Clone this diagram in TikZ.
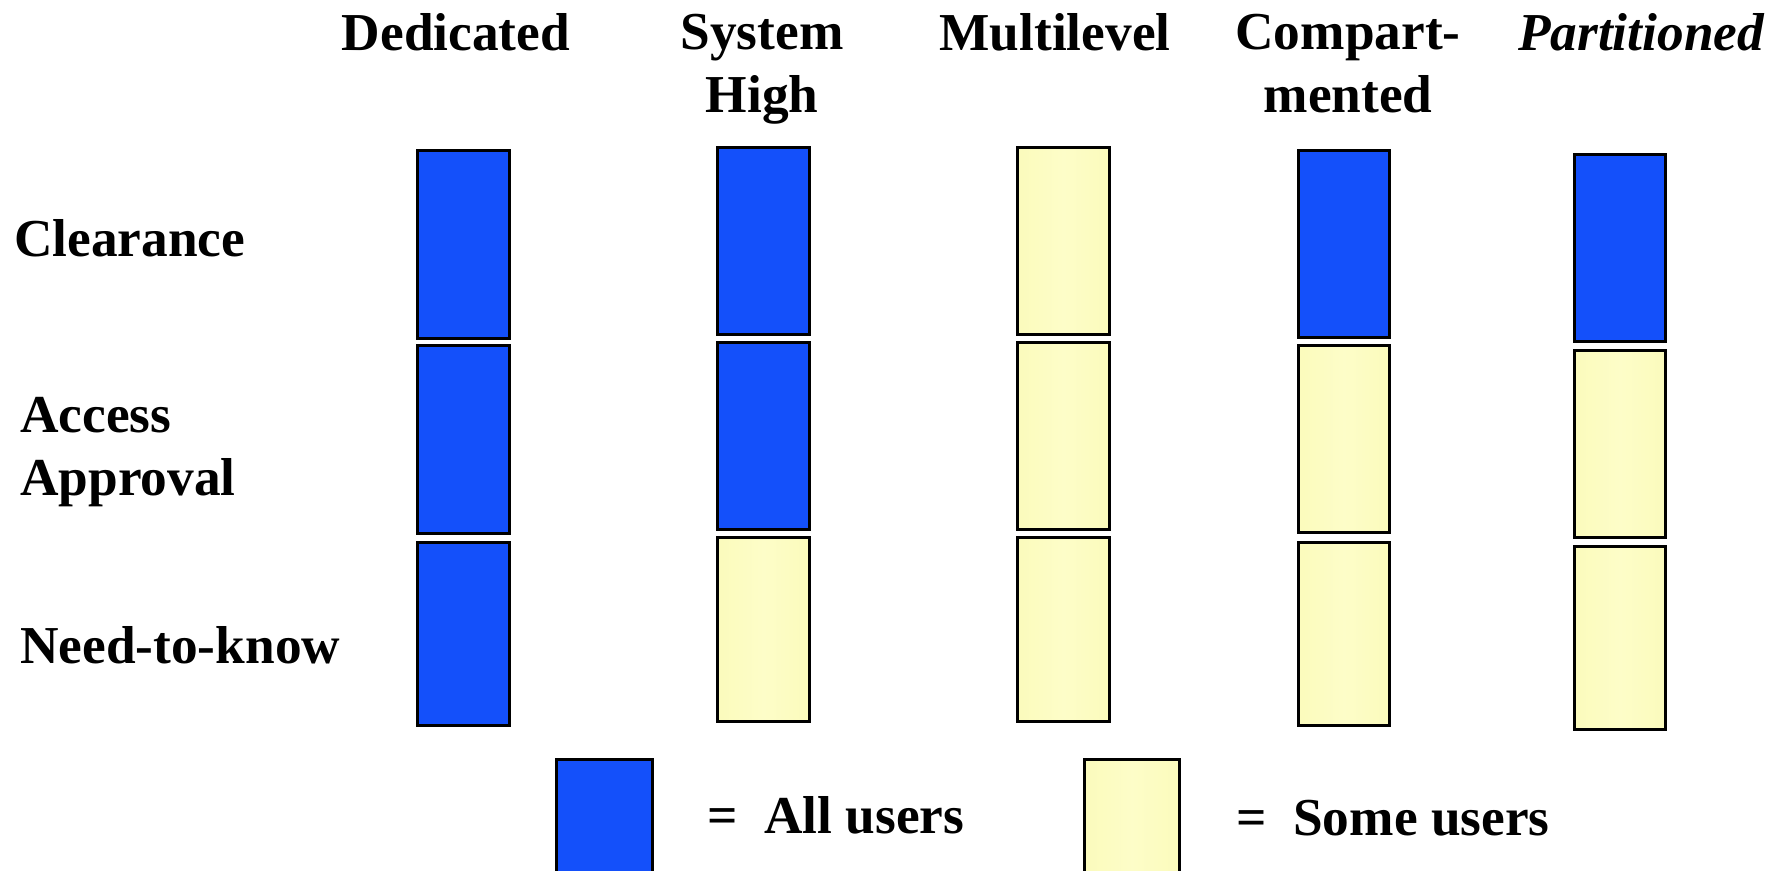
\documentclass[tikz,border=0pt]{standalone}
\usepackage{fontspec}
\setmainfont{Liberation Serif}
\definecolor{allblue}{RGB}{20,80,250}
\definecolor{someyellow}{RGB}{251,251,188}
\definecolor{someyellowmid}{RGB}{253,253,200}
\tikzset{
  cellbase/.style={draw=black, line width=2pt, inner sep=0pt, rectangle},
  allcell/.style={cellbase, fill=allblue},
  somecell/.style={cellbase, left color=someyellow, right color=someyellow, middle color=someyellowmid},
  lbl/.style={font=\fontsize{40pt}{47pt}\selectfont\bfseries, inner sep=0pt, anchor=base west},
  hdr/.style={font=\fontsize{40pt}{47pt}\selectfont\bfseries, inner sep=0pt, anchor=base, align=center},
}
% name, style, x1, y1, x2, y2 (outer edges, pixel units)
\newcommand\cellat[6]{%
  \node[#2, minimum width={(#5-#3)*0.75pt-2pt}, minimum height={(#6-#4)*0.75pt-2pt}]
    (#1) at ({(#3+#5)/2},{(#4+#6)/2}) {};}
\begin{document}
\begin{tikzpicture}[x=0.75pt, y=-0.75pt]
  \useasboundingbox (0,0) rectangle (1782,871);
  \clip (0,0) rectangle (1782,871);

  % column headings (base anchor of a two-line node is its last line)
  \node[hdr] (hDed) at (456,50) {Dedicated};
  \node[hdr] (hSys) at (762,112) {System\\High};
  \node[hdr] (hMul) at (1055,50) {Multilevel};
  \node[hdr] (hCmp) at (1348,112) {Compart-\\mented};
  \node[hdr, font=\fontsize{40pt}{47pt}\selectfont\bfseries\itshape] (hPar) at (1641,50) {Partitioned};

  % row labels
  \node[lbl] (rClr) at (14,256) {Clearance};
  \node[lbl, align=left] (rAcc) at (20,495) {Access\\Approval};
  \node[lbl] (rNtk) at (20,663) {Need-to-know};

  % Dedicated
  \cellat{d1}{allcell}{416}{149}{511}{340}
  \cellat{d2}{allcell}{416}{344}{511}{535}
  \cellat{d3}{allcell}{416}{541}{511}{727}
  % System High
  \cellat{s1}{allcell}{716}{146}{811}{336}
  \cellat{s2}{allcell}{716}{341}{811}{531}
  \cellat{s3}{somecell}{716}{536}{811}{723}
  % Multilevel
  \cellat{m1}{somecell}{1016}{146}{1111}{336}
  \cellat{m2}{somecell}{1016}{341}{1111}{531}
  \cellat{m3}{somecell}{1016}{536}{1111}{723}
  % Compartmented
  \cellat{c1}{allcell}{1297}{149}{1391}{339}
  \cellat{c2}{somecell}{1297}{344}{1391}{534}
  \cellat{c3}{somecell}{1297}{541}{1391}{727}
  % Partitioned
  \cellat{p1}{allcell}{1573}{153}{1667}{343}
  \cellat{p2}{somecell}{1573}{349}{1667}{539}
  \cellat{p3}{somecell}{1573}{545}{1667}{731}

  % legend
  \cellat{kAll}{allcell}{555}{758}{654}{900}
  \node[lbl] (tAll) at (707,833) {=\ \ All users};
  \cellat{kSome}{somecell}{1083}{758}{1181}{900}
  \node[lbl] (tSome) at (1236,835) {=\ \ Some users};
\end{tikzpicture}
\end{document}
